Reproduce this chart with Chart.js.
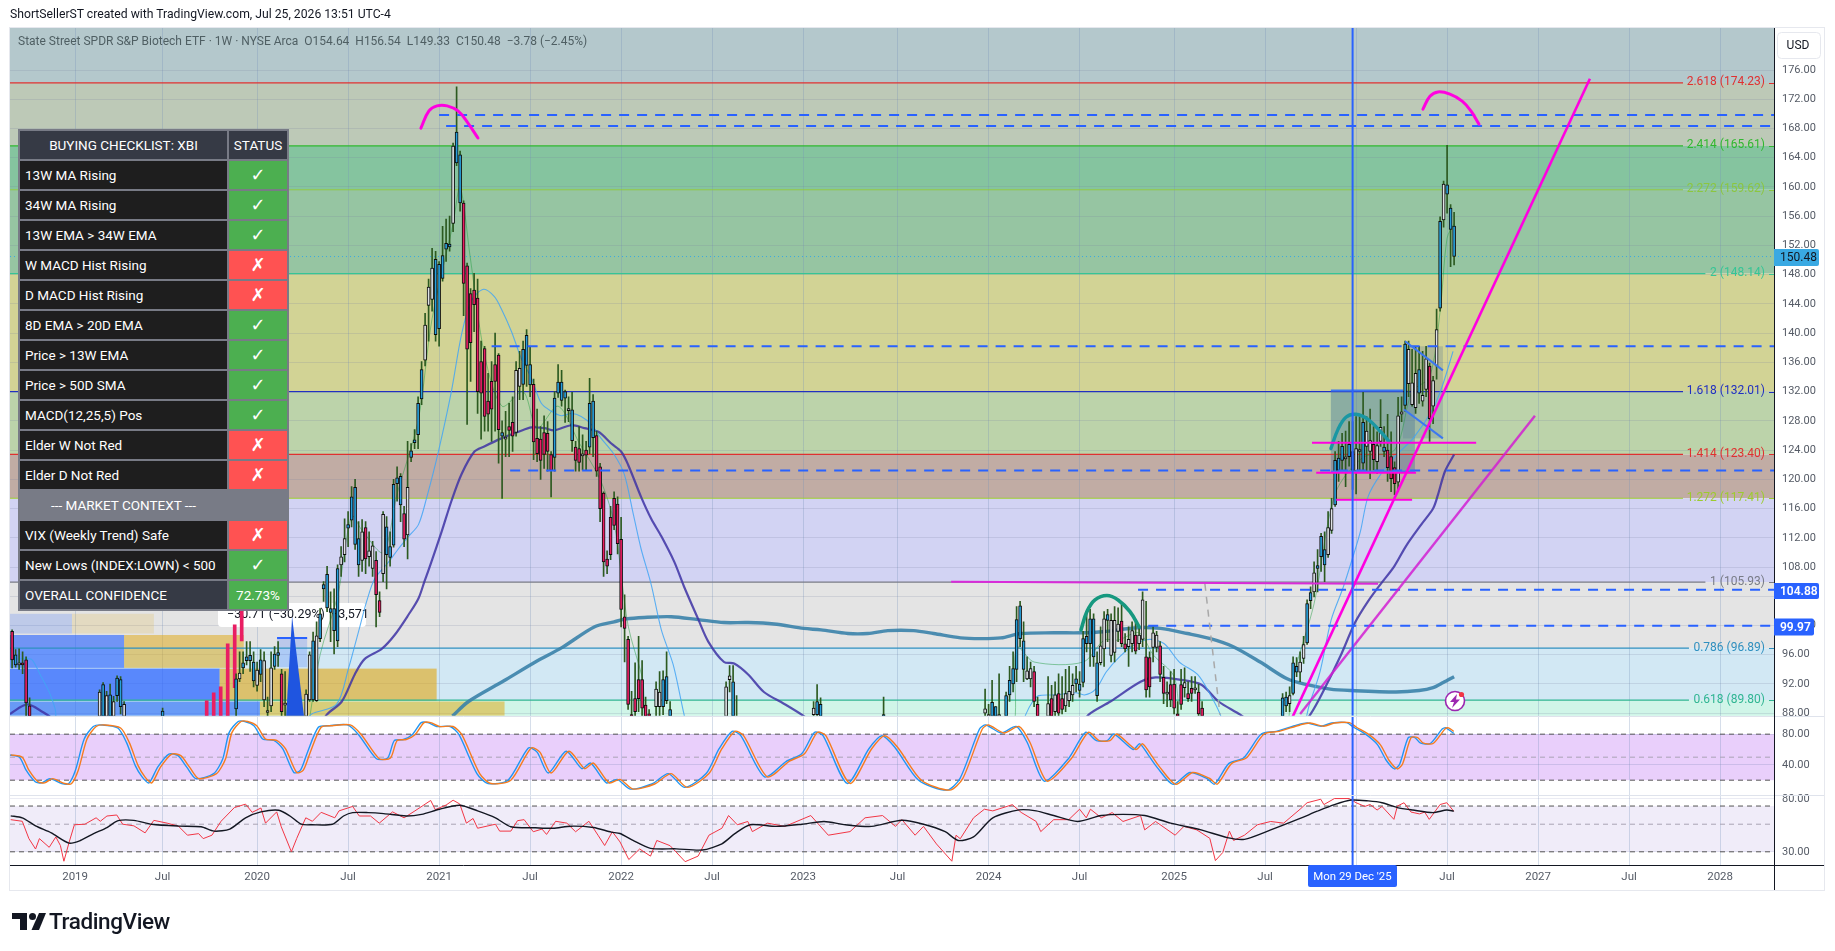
<!doctype html>
<html><head><meta charset="utf-8"><title>XBI</title>
<script src="https://cdn.jsdelivr.net/npm/chart.js@4"></script>
<style>
html,body{margin:0;padding:0;background:#fff;width:1835px;height:951px;overflow:hidden;font-family:Roboto,sans-serif}
canvas{position:absolute;left:0;top:0}
.t{position:absolute;white-space:pre}
#hdr{left:10px;top:7px;font-size:12.2px;color:#131722}
#ttl{left:18px;top:34px;font-size:12px;color:#4f5f63}
#tbl{position:absolute;left:18px;top:128.5px;width:267px;padding:2px;background:#787b86;display:grid;grid-template-columns:207px 58px;grid-auto-rows:28px;gap:2px}
#tbl div{display:flex;align-items:center;color:#fff;font-size:13.5px;font-family:Roboto,sans-serif;box-sizing:border-box;padding-left:5px;white-space:nowrap}
#tbl .h{background:#363a45;justify-content:center;padding:0}
#tbl .l{background:#1e1e1e}
#tbl .ok,#tbl .no{justify-content:center;padding:0;font-family:"DejaVu Sans";font-size:18px;font-weight:700}
#tbl .ok{background:#4caf50}#tbl .no{background:#ff5252}
#tbl .c{background:#787b86;justify-content:center;padding:0}
#tbl .o{background:#363a45}
#tbl .p{background:#4caf50;justify-content:center;padding:0}
#logo{position:absolute;left:12px;top:912px}
#lt{left:49px;top:908px;font-size:22.5px;font-weight:500;color:#131722;letter-spacing:-.4px}
</style></head><body>
<canvas id="c" width="1835" height="951"></canvas>
<div class="t" id="hdr">ShortSellerST created with TradingView.com, Jul 25, 2026 13:51 UTC-4</div>
<div class="t" id="ttl">State Street SPDR S&amp;P Biotech ETF · 1W · NYSE Arca  O154.64  H156.54  L149.33  C150.48  −3.78 (−2.45%)</div>
<div id="tbl"></div>
<svg id="logo" width="34" height="19" viewBox="0 0 34 19"><path d="M0 1h15v17H8V7H0z" fill="#131722"/><circle cx="20.5" cy="4.5" r="3.5" fill="#131722"/><path d="M27 1h7l-7 17h-7.5z" fill="#131722"/></svg>
<div class="t" id="lt">TradingView</div>
<script>
const checklistLabels=["13W MA Rising","34W MA Rising","13W EMA > 34W EMA","W MACD Hist Rising","D MACD Hist Rising","8D EMA > 20D EMA","Price > 13W EMA","Price > 50D SMA","MACD(12,25,5) Pos","Elder W Not Red","Elder D Not Red"];
const checklistStatus=[1,1,1,0,0,1,1,1,1,0,0];
const contextLabels=["VIX (Weekly Trend) Safe","New Lows (INDEX:LOWN) < 500"];
const contextStatus=[0,1];

const tickWeeks=[18,43,70,96,122,148,174,200,226,253,279,305,332,358,384,410,436,462,488];
const tickLabels=["2019","Jul","2020","Jul","2021","Jul","2022","Jul","2023","Jul","2024","Jul","2025","Jul","2026","Jul","2027","Jul","2028"];
const priceTicks=[88,92,96,100,104,108,112,116,120,124,128,132,136,140,144,148,152,156,160,164,168,172,176];
const stochTicks=[40,80];
const rsiTicks=[30,80];

const fibRatios=["0.618","0.786","1","1.272","1.414","1.618","2","2.272","2.414","2.618"];
const fibPrices=[89.80,96.89,105.93,117.41,123.40,132.01,148.14,159.62,165.61,174.23];
const fibColors=["#2fb592","#2e8fbf","#787b86","#9ccc2e","#e03030","#2030c0","#35c596","#8cc63f","#2fb82f","#e03030"];
const fibLineEnds=[479.1,479.1,483.8,477.4,477.4,477.4,483.8,477.4,477.4,477.4];
const bandEdges=[181.75,174.23,165.61,159.62,148.14,132.01,123.40,117.41,105.93,96.89,89.80,87.64];
const bandColors=["#b4c8cc","#bdc9b7","#85c49f","#96c5a2","#d2d395","#bcd3aa","#c1aca4","#d2d3f3","#e4e4e4","#d2e8f4","#d0f5e8"];

const barWeeks=[0,1,2,3,4,5,25,26,27,28,29,30,31,32,43,
64,65,66,67,68,69,70,71,72,73,74,75,76,77,78,84,85,86,87,
88,89,90,91,92,93,94,95,96,97,98,99,100,101,102,103,104,105,106,107,108,109,110,111,112,113,114,115,116,
117,118,119,120,121,122,123,124,125,126,127,128,129,130,131,132,133,134,135,136,137,138,139,140,141,142,143,144,145,146,147,148,149,
150,151,152,153,154,155,156,157,158,159,160,161,162,163,164,165,166,167,168,169,170,171,172,173,174,175,176,177,178,179,180,181,182,184,185,186,187,188,
204,205,206,207,229,230,231,249,278,279,280,281,282,284,285,286,287,288,
289,290,291,292,293,296,297,298,299,300,301,302,303,304,305,306,307,308,309,310,311,312,313,314,315,316,317,318,319,320,321,322,323,324,325,326,327,328,329,330,331,332,333,334,335,336,337,338,339,340,
363,364,365,366,367,368,369,370,371,372,373,374,375,376,377,378,379,380,381,382,383,384,385,386,387,388,389,390,391,392,393,394,395,396,397,398,399,400,401,402,403,404,405,406,407,408,409,410,411,412];
const bodyTop=[99.2,96.0,94.8,94.9,95.3,89.0,90.9,91.9,90.4,90.5,89.6,92.8,92.6,89.2,88.3,
92.7,93.5,94.9,95.7,95.9,95.0,93.9,95.3,95.2,88.2,94.2,96.1,96.3,93.4,89.2,90.6,96.0,97.9,98.6,
101.6,105.6,107.0,102.3,102.3,107.8,109.4,111.9,113.8,117.6,118.9,111.9,112.8,113.4,110.2,110.9,108.9,103.4,115.2,113.5,110.8,119.3,120.2,120.4,115.3,118.9,123.9,125.4,130.4,
135.0,141.1,146.3,148.9,150.1,149.4,150.6,152.3,152.2,165.6,167.5,164.4,157.8,149.2,145.4,145.9,144.8,136.1,137.9,130.7,133.4,135.7,137.0,126.4,125.7,127.2,127.8,134.9,135.2,137.8,139.7,135.7,133.0,
125.6,125.5,126.4,126.3,123.4,131.1,133.3,133.3,132.0,129.5,129.5,124.4,124.2,123.3,124.0,130.4,130.7,126.0,121.7,118.1,109.1,114.8,117.4,116.6,111.8,101.2,98.1,87.8,90.0,92.6,92.6,89.1,87.9,91.3,90.9,92.6,93.0,88.5,
91.6,93.1,92.3,86.0,88.7,89.6,89.2,87.8,88.6,87.8,89.5,88.9,87.8,90.4,92.5,94.1,100.8,102.7,
97.9,93.8,94.1,93.7,89.2,89.3,90.0,90.5,90.7,90.0,90.7,91.0,91.8,92.7,92.0,98.2,98.5,100.9,100.9,94.9,97.2,100.9,101.5,100.7,100.7,100.2,100.6,97.5,98.1,99.3,98.7,98.7,103.5,95.7,95.6,99.0,98.7,97.2,92.9,90.8,91.9,92.0,87.9,91.9,92.2,90.7,91.4,91.3,90.9,88.7,
90.1,90.2,90.4,94.9,94.4,95.0,97.4,103.0,104.5,107.2,108.2,112.2,110.4,113.4,116.0,122.6,122.9,124.5,122.9,124.8,123.8,124.2,123.9,127.8,126.6,125.3,124.8,124.6,127.1,124.4,124.0,123.1,121.6,128.7,129.25,138.5,137.8,133.2,134.5,135.0,131.5,136.5,135.5,133.5,140.5,155.3,160.4,160.3,157.1,154.64];
const bodyBottom=[95.3,94.6,94.6,94.6,89.4,87.5,87.0,87.0,86.0,85.5,86.0,90.4,88.9,86.0,86.5,
88.6,92.7,94.2,95.2,95.2,92.4,91.8,93.3,89.8,88.1,89.0,94.4,95.9,88.2,89.1,87.4,89.8,89.8,89.7,
98.2,105.0,102.4,101.8,99.3,97.9,108.3,109.7,113.3,114.4,111.1,108.3,108.9,109.1,109.4,107.8,104.2,101.8,107.1,109.7,109.3,111.0,119.4,116.5,111.8,112.4,123.0,125.0,126.1,
131.0,136.3,143.8,144.6,139.8,140.6,147.5,151.5,151.8,155.0,163.3,157.8,146.8,137.8,138.7,143.9,132.0,131.8,128.6,128.9,129.6,133.4,126.8,125.9,125.5,126.7,125.9,126.4,132.7,133.0,135.6,132.9,125.1,
123.5,122.6,123.4,123.8,121.2,123.0,131.8,130.8,131.1,129.4,125.3,122.6,122.3,123.2,123.3,124.4,125.7,121.1,116.0,108.7,108.1,109.7,113.7,111.2,102.2,99.6,89.2,85.4,88.2,90.0,88.7,86.1,86.1,88.9,88.9,88.9,89.7,86.1,
85.4,92.6,85.4,85.0,87.8,87.8,86.1,87.5,88.0,86.8,86.8,86.8,86.8,86.8,90.5,92.0,94.0,98.2,
94.0,92.7,92.7,89.6,86.1,86.1,86.8,88.2,88.0,88.5,89.0,89.7,90.5,92.0,91.1,92.2,97.5,97.5,95.7,90.4,94.9,96.8,100.7,95.9,96.3,99.2,97.5,96.8,97.1,97.5,96.5,97.5,98.1,91.2,91.6,97.0,97.0,93.3,90.7,90.6,89.8,88.7,86.0,89.2,91.5,90.0,90.7,91.2,87.9,86.1,
86.1,89.0,89.3,90.7,93.6,93.6,95.5,97.6,103.4,104.6,107.8,109.4,108.3,109.7,113.0,116.5,121.2,122.6,122.8,123.1,121.2,121.1,123.8,122.2,124.5,123.8,122.7,122.4,125.2,123.8,121.6,120.1,119.4,119.6,128.9,130.1,133.1,130.2,129.8,131.8,130.7,132.3,128.3,130.0,135.5,143.4,155.5,159.0,154.2,150.48];
const highs=[99.4,96.7,96.8,96.4,95.7,90.1,91.2,92.2,91.0,92.0,90.3,93.1,93.0,89.6,88.7,
93.4,96.4,96.4,97.8,97.8,96.4,95.0,96.7,96.4,90.2,96.4,97.1,97.8,94.0,93.7,91.2,96.4,99.1,100.5,
102.3,106.0,108.1,104.6,105.0,108.3,110.8,114.6,115.6,119.0,120.0,114.2,114.5,114.2,112.8,111.5,110.1,104.6,115.6,114.9,112.8,120.0,121.7,120.8,116.3,125.2,124.9,126.8,131.3,
136.1,142.7,147.4,151.6,151.2,149.8,154.6,155.6,156.0,166.0,173.7,164.9,158.1,149.6,146.1,148.2,147.4,138.9,138.2,134.5,136.1,140.0,137.2,128.0,129.3,130.4,131.3,136.1,137.5,138.9,140.5,138.2,133.7,
129.6,127.2,128.7,127.9,123.8,132.0,135.7,134.9,132.2,131.3,131.9,125.2,127.2,126.1,125.2,133.8,131.6,126.6,122.2,118.3,110.2,116.3,118.3,117.6,114.8,104.2,98.5,91.0,94.9,98.5,95.2,90.2,88.5,92.3,93.7,93.8,96.4,89.6,
92.3,94.5,94.5,90.4,89.6,91.9,90.1,90.2,91.3,89.2,92.5,88.9,93.4,90.9,94.4,96.4,102.6,103.3,
100.5,95.7,95.0,94.4,90.2,93.0,91.8,92.3,93.4,93.0,94.0,94.4,93.4,94.4,93.7,99.2,101.9,102.2,101.6,96.4,99.8,101.9,102.2,101.6,102.6,102.4,103.0,98.9,99.8,100.5,100.5,99.8,104.6,103.3,96.4,99.8,99.2,97.8,94.4,92.3,93.7,94.0,89.6,94.0,94.2,92.3,93.0,93.0,92.0,89.6,
90.7,90.9,91.6,95.7,95.6,96.4,98.5,103.5,105.3,108.7,110.4,112.6,112.8,115.6,117.4,123.8,125.2,126.3,126.6,127.9,127.9,128.6,128.6,131.9,128.6,129.6,127.2,126.5,130.9,127.2,128.9,126.5,122.4,131.2,131.3,138.9,138.9,137.8,138.2,138.2,137.5,138.2,135.9,134.1,143.3,155.9,160.8,165.7,157.6,156.54];
const lows=[94.2,94.3,94.0,93.4,86.8,85.5,85.5,85.5,85.0,85.0,85.0,89.6,87.9,85.0,85.0,
86.5,92.3,93.4,94.6,93.7,91.6,91.0,92.3,88.9,86.8,88.2,94.0,94.4,86.1,86.8,85.5,89.6,89.6,89.6,
97.8,103.3,101.9,97.8,96.1,97.1,106.7,108.7,110.8,113.5,110.4,106.7,107.4,107.1,108.1,106.7,99.8,101.2,106.0,105.0,108.1,110.7,117.0,114.2,110.8,109.1,122.4,124.2,124.2,
130.2,135.5,138.9,143.0,138.9,138.2,147.1,149.8,151.2,153.9,162.9,156.7,142.4,127.5,133.4,140.2,129.0,125.5,126.6,126.6,125.2,126.6,122.2,117.4,123.1,123.1,123.8,125.9,130.9,130.9,132.7,131.3,122.7,
122.4,120.0,121.5,121.1,117.6,121.1,131.2,130.0,127.8,127.9,123.8,121.1,121.1,121.3,121.3,123.5,123.1,120.4,114.2,106.7,107.1,109.0,113.1,109.8,99.8,95.0,88.5,84.8,86.1,88.2,87.4,85.4,85.4,87.5,87.5,87.8,89.3,85.4,
84.8,90.9,84.8,84.5,87.0,87.5,85.4,87.0,87.5,86.0,86.0,86.0,86.0,86.0,89.6,90.9,92.3,97.1,
92.3,92.6,91.6,88.9,85.4,85.4,85.4,87.5,86.8,87.9,88.2,88.9,89.6,90.9,90.2,91.6,96.4,94.4,94.4,89.6,94.6,94.4,97.8,95.0,95.0,97.8,97.1,96.4,94.4,96.4,96.1,96.7,97.1,90.2,90.2,95.0,96.4,92.3,89.3,88.9,88.9,87.9,85.4,88.5,90.2,89.6,89.6,90.7,86.8,85.4,
85.4,88.2,88.2,90.5,93.0,92.3,94.8,97.4,102.3,103.9,104.6,107.4,106.0,109.3,112.6,116.3,119.7,121.1,119.0,121.8,118.6,118.0,121.1,121.1,121.1,120.1,121.3,120.8,124.5,123.1,119.7,118.3,117.9,118.3,127.9,129.3,131.3,130.0,129.0,130.4,130.0,131.3,125.2,127.6,133.7,143.0,154.5,156.4,149.1,149.33];
/* weeks whose candle is pink or pale; the rest are blue */
const pinkCandleWeeks=[0,3,4,5,77,101,104,105,112,129,130,131,132,133,134,135,136,137,138,139,142,143,149,150,151,152,153,154,161,162,164,167,168,169,170,171,172,173,174,175,176,177,178,179,180,181,182,292,293,297,299,300,317,318,321,324,325,328,329,331,332,333,334,336,337,339,340,389,393,394,395,405];
const paleCandleWeeks=[2,25,27,29,32,65,70,72,73,74,78,84,85,87,94,95,100,102,103,106,113,118,119,120,126,141,144,145,159,163,184,185,204,205,207,229,278,279,282,290,291,296,298,301,302,303,311,312,314,315,316,319,320,322,323,326,327,330,335,338,365,368,369,372,376,377,381,384,385,387,388,390,391,396,397,399,400,401,403,404,406,407,409];

/* thin 13-week average */
const ma13Weeks=[-1,1.5,3.7,5.7,8,10.6,12.3,13.4,82.7,85.6,92.7,96.1,99,101.3,103.6,107.6,110.4,113.3,116.1,118.4,121.8,125.5,128.4,131.2,134.7,137.8,139.8,142.7,145.5,148.4,151.2,154.1,156.9,159.8,162.6,165.5,168.3,172,174.9,177.5,179.7,182.6,185.5,188.9,192,194,286.7,289.6,291.6,293.3,297.9,303.9,306.4,309.6,312.7,316.4,320.7,325,329.2,333.5,338.7,342.4,345.2,347.5,366.6,370.9,373.7,376.9,380.3,382.9,385.2,387.4,390.9,395.7,400.3,406,408.8,411.7];
const ma13Values=[95.4,95.4,95.5,95.3,93.3,90.9,88.6,86.5,86.5,87.9,89.2,94.1,99.2,103.3,106.4,108.7,110.5,112.2,113.8,117.4,123.8,132,139.8,144.4,146,145,143.3,140.2,136.5,133.8,130.4,129.3,128.7,129,128.6,127.5,125.6,123.4,120.7,115.2,110.5,105.6,99.4,94.6,87.8,84,84,87.8,89.6,90.4,90.5,90.8,90.5,91.3,93.7,95.7,97.4,98.1,97.5,95,93.3,90.5,87.8,84,84,89.6,93.7,100.8,105.2,109.1,112.8,117.6,120.6,123.4,125.6,129.7,133,137.5];
/* dark purple 34-week average */
const ma34Weeks=[-0.6,4.3,8.6,12,14,85.6,89.9,94.2,97.9,100.7,105.6,109.3,113.3,116.1,117.8,119.8,122.7,125.5,128.4,132.1,134.9,139.8,144.7,148.4,152.1,154.9,159.8,163.5,167.5,171.2,174,176,179.7,182.6,185.5,189.2,192,196,198.9,203.4,206.3,210.3,214.8,220.5,226.2,234,302.4,307.6,313.8,322.4,326.7,333.5,339.8,344.7,350.9,354.6,365.2,370.9,374.3,379.7,383.7,387.4,390.9,394.9,398.3,402.6,406,407.4,409.4,412];
const ma34Values=[87.9,89.2,88.2,87,84.8,84.8,87.8,89.6,93.3,95.4,96.8,98.7,101.5,103.7,106,108.7,112.8,117,120.7,123.8,124.5,125.6,126.5,127.1,127,126.7,127.4,127,126.5,124.9,123.8,122,117.6,114.6,112.2,108.7,105.3,100.9,97.8,95,94.8,93.3,90.9,89.3,87.6,84.8,84.8,87.8,89.6,92.3,92.9,92.6,91.9,89.6,87.8,86.5,84,87.8,90.7,96,100.4,103.3,105.6,108.1,110.9,113.8,116,117.9,121.1,123.4];
/* thick teal 200-week average */
const ma200Weeks=[125.8,130.4,140.4,149.5,157.2,166.3,172,175.5,180.6,188.3,196,203.4,210.3,217.7,226.2,231.1,238.8,244.5,250.2,257.6,263.3,271,276.7,282.5,288.2,297.6,305.3,311.8,321.5,328.1,335.8,342.4,348.9,356.6,364.3,370,376.6,382.6,395.4,402,406,408.9,412];
const ma200Values=[87.6,89.6,92.4,95,97,99.8,100.5,100.9,101.1,101.2,100.8,100.4,100.4,100.2,99.6,99.4,98.9,98.9,99.3,99.3,98.9,98.3,98.2,98.3,98.9,99,99,99.15,99.7,99.6,98.9,98.2,97.1,95,92.7,91.9,91.3,91.1,90.9,91.1,91.5,92.2,93];
/* faint green short average */
const emaWeeks=[84,88,93,97,100,106,110,116,120,126,128,131,135,140,146,150,156,162,168,172,176,180,184,283,287,292,306,312,316,322,326,332,336,362,366,372,378,386,395,400,405,408,410,412];
const emaValues=[84,96,104,115,113,110,118,128,142,155,160,150,137,130,132,127,130,125,120,114,100,93,84,84,97,95,95,98,98,99,96,93,84,84,93,103,118,123,124,132,134,143,153,155];

/* stochastic */
const stochDWeeks=[-0.4,2.9,4.8,7.4,9.3,11.6,15,17,18.9,21.4,24,26.5,31,33.5,36,38,39.9,42.4,45.6,48.2,50.7,53.3,58.4,61,62.8,65.4,67.3,69.9,72.4,75.6,78.1,81.3,83.2,85.2,88.3,91.5,96.6,99.8,104.9,108.1,110,112.6,115.1,117.7,119.6,122.1,126,128.5,133.6,136.8,142.5,148.3,150.8,154,159.1,163.6,166.1,170.6,173.7,177.4,183.6,188.3,192.9,199.1,202.8,206.5,209,215.8,222,226.4,230.1,232.5,239.4,245.6,249.3,253,259.8,267.9,271.6,277.2,279,283.4,287.7,290.8,295.7,302.6,307.5,310.6,313.7,315.6,321.1,323,325.5,328,332.5,337.3,342.2,344.4,348.4,352.7,357.7,362,368,370.9,374.8,377.8,382.1,384.1,387.5,390.9,393.4,395.8,397.3,399.7,401.6,403.1,406,409.4,410.4,411.9];
const stochDValues=[53,50,33,18,16.5,22,15.7,15.7,33,73.7,90,92,88,69,39,24,16.5,37,54,52,37,22,28.6,48,82,96.5,96.5,91,73.7,72,61,30,33,56.5,89,91,92,79.3,48,49,71.6,73,79.3,95,95,90,90,79.3,28.6,15.7,20,62,56.5,29.4,57.8,35,42.3,16.5,21,8.4,15,28.6,10.6,28.6,61,83.7,78,24.3,44.6,54.5,82.4,78,15.8,61,78,63,20,7,22,86.7,92,81.5,90,69.5,18.8,48,82.4,71.6,71.6,80.2,60,67.4,52.3,36.4,14.5,30,22.2,15,41.6,49.3,80.2,83.7,92,94.5,90.4,94.5,95,89,80,66.4,46,34.7,41.5,75.5,75.5,68.7,67.8,86.8,88.2,83.6];
const stochKWeeks=[-1.2,2.1,4,6.6,8.5,10.8,14.2,16.2,18.1,20.6,23.2,25.7,30.2,32.7,35.2,37.2,39.1,41.6,44.8,47.4,49.9,52.5,57.6,60.2,62,64.6,66.5,69.1,71.6,74.8,77.3,80.5,82.4,84.4,87.5,90.7,95.8,99,104.1,107.3,109.2,111.8,114.3,116.9,118.8,121.3,125.2,127.7,132.8,136,141.7,147.5,150,153.2,158.3,162.8,165.3,169.8,172.9,176.6,182.8,187.5,192.1,198.3,202,205.7,208.2,215,221.2,225.6,229.3,231.7,238.6,244.8,248.5,252.2,259,267.1,270.8,276.4,278.2,282.6,286.9,290,294.9,301.8,306.7,309.8,312.9,314.8,320.3,322.2,324.7,327.2,331.7,336.5,341.4,343.6,347.6,351.9,356.9,361.2,367.2,370.1,374,377,381.3,383.3,386.7,390.1,392.6,395,396.5,398.9,400.8,402.3,405.2,408.6,409.6,411.9];
const stochKValues=[53,50,33,18,16.5,22,15.7,15.7,33,73.7,90,92,88,69,39,24,16.5,37,54,52,37,22,28.6,48,82,96.5,96.5,91,73.7,72,61,30,33,56.5,89,91,92,79.3,48,49,71.6,73,79.3,95,95,90,90,79.3,28.6,15.7,20,62,56.5,29.4,57.8,35,42.3,16.5,21,8.4,15,28.6,10.6,28.6,61,83.7,78,24.3,44.6,54.5,82.4,78,15.8,61,78,63,20,7,22,86.7,92,81.5,90,69.5,18.8,48,82.4,71.6,71.6,80.2,60,67.4,52.3,36.4,14.5,30,22.2,15,41.6,49.3,80.2,83.7,92,94.5,90.4,94.5,95,89,80,66.4,46,34.7,41.5,75.5,75.5,68.7,67.8,86.8,88.2,81];

/* RSI and its average */
const rsiWeeks=[-0.4,2.9,4.8,6.7,7.8,10.6,12.5,13.8,14.8,16.3,17.8,20.8,24,25.2,27.1,29.9,31.6,34.8,38,40.5,44.3,47.5,50.1,53.3,54.6,57.1,59.7,63.5,66.7,68.6,71.1,72.4,75.6,76.9,79.8,81.3,83.9,85.8,88.3,92.2,93.4,97.3,99.2,102.4,104.9,108.7,112,115.1,119.6,120.9,124,126,127.9,129.8,131.7,133,138.1,139.3,142.5,144.4,146.3,148.9,151.4,152.7,155.3,158.5,161,164.8,167.4,169.3,171.5,173.7,176.2,179.3,182.4,184.2,188,192.3,196,199.1,202.8,204.7,207.2,210.2,211.5,215.8,220.8,228.2,233.2,239.4,243.7,248.7,252.4,254.2,258,260.4,264.1,268.5,269.7,270.9,274.7,277.8,280.2,285.8,288.3,292.6,293.9,297.6,301.9,305,306.9,308.1,311.2,314.3,317.4,322.4,323.6,326.7,332.3,334.8,338.5,342.2,343.8,345.9,347.8,349,352.1,355.8,359.6,363.3,368,370,373.9,374.8,377.8,382,384,386.5,388,390,391.4,394.8,395.8,397.7,399.7,402.1,403.6,404.9,408,409.9,411.9];
const rsiValues=[54.4,52.8,38.3,31.6,38.3,32.6,39.5,33.7,25.2,35.9,49.5,50,56.3,52.8,58.2,59.3,50,48.5,42.6,53.7,51,48.3,40.8,42,38.3,40.8,52.8,68,72.5,62.3,67.5,51,62.8,47.7,30,38.3,56.3,52.8,62.3,56.3,64,69.5,58.2,58.2,51,62.8,56.3,64,77.6,65.5,71.3,78,72.7,51,55.6,46.4,50,44,44,53.4,54.4,43.5,45.7,41.4,52.8,51,43.5,52.8,40.8,33.7,43.5,36,26,31.6,27.7,37,33.6,25,27.7,40.8,46.4,58.7,49.5,52.6,43.6,51,48,58.7,40.8,43.6,56.3,58.7,48,54.5,40.8,48,34.7,25.2,40.8,38.2,56.3,66,64,71.8,62.2,52.6,43.6,54.4,54.4,66,56.3,66,56.3,62,52.6,58.7,45,52.6,40.8,48,45,38.5,25.5,29.6,44,37,40.8,49.5,52.6,51,66,74.4,79.4,71.9,80.4,80.4,74.4,69.5,72,65,69.5,54.7,70,74.4,62.6,60.5,62.6,54.7,72,74.4,63.6];
const rsiMaWeeks=[-0.4,2.9,6.7,11.2,16.3,19.5,23.3,27.1,30.3,34.8,39.9,47.5,54,57.7,62.2,66.7,71.1,76.2,79.4,82.6,85.8,91.5,94.7,97.3,101.7,106.2,112.6,117,122.1,127.9,133,138.1,142.5,149.5,154.6,159.7,166.1,171.2,173.7,177.4,182.4,189.8,197.2,202.8,206.5,210.9,218.3,225.7,232,238.1,245.6,254.2,260.4,266.6,270.3,274.7,280.2,287.7,292.6,297.6,304.4,311.2,317.4,323.6,331,339.7,347.2,352.1,359.6,368,372.9,377.8,382.6,387.5,391.4,395.8,400.2,406,409.9,411.9];
const rsiMaValues=[58.4,56.3,48.5,42.6,35.2,37,42,47,53.4,53.7,50,48.3,47.7,44,45.7,56.3,62.8,64.8,58.2,50,49.5,50,58.2,62,62,60.8,58.2,60,66,71,64,56.3,47.7,46.8,46.4,48.2,47,43.2,42.1,37,32,31.7,31,34.8,42,49.5,48,50,52.6,49.5,48,53.8,50,43.5,37,39.5,56.3,65.2,64,58.7,52.6,58.7,60,58.7,51,45,39,37.8,45,55.7,63.6,71.9,78.2,77,74.4,68,65,62,65,63.6];

/* hand-drawn trading marks, in week and price */
const dashWeeks=[122,124,137,142.3,321.7,324.6];
const dashPrices=[169.83,168.33,138.2,121.2,104.88,99.97];
const arcLeftWeeks=[116.8,119.1,121.4,124.3,127.4,130.3,133.1];
const arcLeftPrices=[168.05,170.4,171.1,171.1,170.4,168.7,166.7];
const arcRightWeeks=[403.1,405.1,407.4,410.8,414.3,416.8,419.1];
const arcRightPrices=[170.65,172.4,173,172.7,171.75,170.4,168.6];
const trendOneWeeks=[364.3,450.8];const trendOnePrices=[85.9,174.8];
const trendTwoWeeks=[368,435.1];const trendTwoPrices=[87.9,128.7];
const neckWeeks=[268.3,390.3];const neckPrices=[106,105.7];
const levelWeeks=[[371.4,418.3],[372.6,401.1],[378.3,400]];
const levelPrices=[125,120.9,117.2];
const tealArcWeeks=[376.8,378.8,381.1,383.9,387.4,391.4,393.4];
const tealArcPrices=[124.2,126.8,128.5,128.9,128.2,126.3,125.2];
const greenArcWeeks=[305.4,307.1,309.4,312.8,316,319.4,322];
const greenArcPrices=[99.4,101.9,103.5,104.1,103.5,101.9,99.8];
const flagTopWeeks=[398,408.8];const flagTopPrices=[138.9,134.9];
const flagLowWeeks=[397.7,408.8];const flagLowPrices=[129.56,125.6];
const boxEdgeWeeks=[376.8,397.4];const boxEdgeTop=132.16;const boxEdgeBottom=121.07;
const diagWeeks=[340.8,345.1];const diagPrices=[105.7,87.8];
const cursorWeek=383;
const lastPrice=150.48;

/* volume-profile rows and pink columns at the lower left */
const rowTops=[101.6,98.7,94.1,89.6];
const rowBottoms=[98.9,94.2,89.7,87.64];
const rowBlueEnds=[17.1,32,59.3,70.8];
const rowGoldEnds=[40.5,66.2,121.3,140.7];
const rowAlphas=[0.2,0.62,0.72,0.62];
const pinkWeeks=[55.6,57.6,59.6,61.6,63.6,65.6];
const pinkTops=[89.7,90.8,91.6,97.5,100.1,104.6];
const pinkBottoms=[87,87,87,87,91.5,97.9];
const triangleWeeks=[80,78.3,83.4];
const trianglePrices=[101.2,87.6,87.6];
const measureBoxWeeks=[75.7,84.3];const measureBoxPrices=[98.3,94.3];
const boxOneWeeks=[376.8,400.8];const boxOnePrices=[132.16,121.07];
const boxTwoWeeks=[397.4,408.8];const boxTwoPrices=[138.2,125.6];

const stochBands=[80,50,20];
const rsiBands=[70,50,30];

/* ---------- table ---------- */
const tbl=document.getElementById('tbl');
function cell(cls,txt){const d=document.createElement('div');d.className=cls;d.textContent=txt;tbl.appendChild(d);}
cell('h','BUYING CHECKLIST: XBI');cell('h','STATUS');
checklistLabels.forEach((l,i)=>{cell('l',l);cell(checklistStatus[i]?'ok':'no',checklistStatus[i]?'✓':'✗');});
cell('c','--- MARKET CONTEXT ---');cell('c','');
contextLabels.forEach((l,i)=>{cell('l',l);cell(contextStatus[i]?'ok':'no',contextStatus[i]?'✓':'✗');});
cell('o','OVERALL CONFIDENCE');cell('p','72.73%');

const pinkSet=new Set(pinkCandleWeeks),paleSet=new Set(paleCandleWeeks);
const kindColor=w=>pinkSet.has(w)?'#e91e63':paleSet.has(w)?'#dfe3e6':'#27a0dc';

const zip=(xs,ys)=>xs.map((x,i)=>({x,y:ys[i]}));
const flat=(xs,y)=>xs.map(x=>({x,y}));
const XMIN=-0.6,XMAX=503.4;
function line(data,color,width,opt){return Object.assign({type:'line',data,borderColor:color,borderWidth:width,pointRadius:0,fill:false,xAxisID:'x',yAxisID:'y',order:2,tension:0},opt||{});}
const MAG='#ff00e0',DASH='#2962ff';
const ds=[];
ds.push({type:'bar',grouped:false,data:pinkWeeks.map((w,i)=>({x:w,y:[pinkBottoms[i],pinkTops[i]]})),backgroundColor:'#e91e63',barThickness:3,xAxisID:'x',yAxisID:'y',order:8});
ds.push({type:'bar',grouped:false,data:barWeeks.map((w,i)=>({x:w,y:[lows[i],highs[i]]})),backgroundColor:'#2c5a20',barThickness:1,xAxisID:'x',yAxisID:'y',order:6});
ds.push({type:'bar',grouped:false,data:barWeeks.map((w,i)=>({x:w,y:[bodyBottom[i],bodyTop[i]]})),backgroundColor:barWeeks.map(kindColor),borderColor:'#0c0c0c',borderWidth:1,borderSkipped:false,minBarLength:2,barThickness:3,xAxisID:'x',yAxisID:'y',order:5});
ds.push(line(zip(ma13Weeks,ma13Values),'rgba(66,165,245,.85)',1.1,{order:7,tension:.3}));
ds.push(line(zip(ma34Weeks,ma34Values),'rgba(62,50,165,.85)',2.2,{order:7,tension:.3}));
ds.push(line(zip(ma200Weeks,ma200Values),'rgba(58,130,170,.9)',3.4,{order:7,tension:.3}));
ds.push(line(zip(emaWeeks,emaValues),'rgba(40,160,70,.5)',1,{order:7,tension:.3}));
fibPrices.forEach((p,i)=>ds.push(line(zip([XMIN,fibLineEnds[i]],[p,p]),fibColors[i],1.2,{order:9})));
ds.push(line(zip([XMIN,XMAX],[lastPrice,lastPrice]),'#39a9e3',1,{borderDash:[1,3],order:9}));
dashPrices.forEach((p,i)=>ds.push(line(zip([dashWeeks[i],XMAX],[p,p]),DASH,2,{borderDash:[10,8],order:3})));
ds.push(line(zip(arcLeftWeeks,arcLeftPrices),MAG,3,{tension:.4,borderCapStyle:'round'}));
ds.push(line(zip(arcRightWeeks,arcRightPrices),MAG,3,{tension:.4,borderCapStyle:'round'}));
ds.push(line(zip(trendOneWeeks,trendOnePrices),MAG,2.6));
ds.push(line(zip(trendTwoWeeks,trendTwoPrices),'rgba(210,30,210,.85)',2.4));
ds.push(line(zip(neckWeeks,neckPrices),'#d92bd9',2));
levelPrices.forEach((p,i)=>ds.push(line(zip(levelWeeks[i],[p,p]),MAG,2)));
ds.push(line(zip(tealArcWeeks,tealArcPrices),'#1a97a3',3.4,{tension:.4,borderCapStyle:'round'}));
ds.push(line(zip(greenArcWeeks,greenArcPrices),'#16987f',3.6,{tension:.4,borderCapStyle:'round'}));
ds.push(line(zip(flagTopWeeks,flagTopPrices),'#3c78f0',2));
ds.push(line(zip(flagLowWeeks,flagLowPrices),'#3c78f0',2));
ds.push(line(flat(boxEdgeWeeks,boxEdgeTop),'#3c78f0',2));
ds.push(line(flat(boxOneWeeks,boxEdgeBottom),'#3c78f0',2));
ds.push(line(zip(diagWeeks,diagPrices),'#a8a8a8',1.5,{borderDash:[7,6]}));
ds.push(line(zip(measureBoxWeeks,[measureBoxPrices[0],measureBoxPrices[0]]),'#2962ff',2));
ds.push(line(zip([cursorWeek,cursorWeek],[87.64,181.75]),'#2962ff',2,{order:1}));
stochBands.forEach((v,i)=>ds.push(line(zip([XMIN,XMAX],[v,v]),i==1?'#a9a3b5':'#555',1,{yAxisID:'stoch',borderDash:[5,4],order:9})));
ds.push(line(zip(stochKWeeks,stochKValues),'#2196f3',1.4,{yAxisID:'stoch',order:5,tension:.25}));
ds.push(line(zip(stochDWeeks,stochDValues),'#f57c1f',1.4,{yAxisID:'stoch',order:4,tension:.25}));
ds.push(line(zip([cursorWeek,cursorWeek],[0.8,103.9]),'#2962ff',2,{yAxisID:'stoch',order:1}));
rsiBands.forEach((v,i)=>ds.push(line(zip([XMIN,XMAX],[v,v]),i==1?'#a9a3b5':'#555',1,{yAxisID:'rsi',borderDash:[5,4],order:9})));
ds.push(line(zip(rsiWeeks,rsiValues),'#f23645',1,{yAxisID:'rsi',order:5}));
ds.push(line(zip(rsiMaWeeks,rsiMaValues),'#131722',1.4,{yAxisID:'rsi',order:4,tension:.25}));
ds.push(line(zip([cursorWeek,cursorWeek],[23.5,86]),'#2962ff',2,{yAxisID:'rsi',order:1}));

const FONT='Roboto, sans-serif';
const decor={id:'decor',
 beforeDraw(ch){const c=ch.ctx,{y,stoch,rsi}=ch.scales,a=ch.chartArea;c.save();
  c.fillStyle='#fff';c.fillRect(0,0,1835,951);
  bandColors.forEach((col,i)=>{const t=y.getPixelForValue(bandEdges[i]),b=y.getPixelForValue(bandEdges[i+1]);c.fillStyle=col;c.fillRect(a.left,t,a.right-a.left,b-t);});
  let t=stoch.getPixelForValue(80),b=stoch.getPixelForValue(20);c.fillStyle='#e9cffb';c.fillRect(a.left,t,a.right-a.left,b-t);
  t=rsi.getPixelForValue(70);b=rsi.getPixelForValue(30);c.fillStyle='#f0ecf9';c.fillRect(a.left,t,a.right-a.left,b-t);
  c.restore();},
 beforeDatasetsDraw(ch){const c=ch.ctx,{x,y}=ch.scales,a=ch.chartArea;c.save();c.beginPath();c.rect(a.left,y.top,a.right-a.left,y.bottom-y.top);c.clip();
  const R=(w0,w1,p0,p1,col)=>{const l=x.getPixelForValue(w0),r=x.getPixelForValue(w1),t=y.getPixelForValue(p0),b=y.getPixelForValue(p1);c.fillStyle=col;c.fillRect(l,t,r-l,b-t);};
  rowTops.forEach((p,i)=>{R(XMIN,rowBlueEnds[i],p,rowBottoms[i],`rgba(41,98,255,${rowAlphas[i]})`);R(rowBlueEnds[i],rowGoldEnds[i],p,rowBottoms[i],`rgba(225,165,10,${rowAlphas[i]*.8})`);});
  R(measureBoxWeeks[0],measureBoxWeeks[1],measureBoxPrices[0],measureBoxPrices[1],'rgba(41,98,255,.22)');
  R(boxOneWeeks[0],boxOneWeeks[1],boxOnePrices[0],boxOnePrices[1],'rgba(60,110,150,.38)');
  R(boxTwoWeeks[0],boxTwoWeeks[1],boxTwoPrices[0],boxTwoPrices[1],'rgba(90,120,150,.28)');
  c.restore();
  c.save();c.fillStyle='#fff';c.beginPath();c.roundRect(218,603,148,24,4);c.fill();c.fillStyle='#131722';c.font='12.5px '+FONT;c.textBaseline='middle';c.fillText('−30.71 (−30.29%)  −3,571',227,615);c.restore();
 },
 afterDatasetsDraw(ch){const c=ch.ctx,{x,y,stoch}=ch.scales,a=ch.chartArea;c.save();
  c.save();c.beginPath();c.rect(a.left,y.top,a.right-a.left,y.bottom-y.top);c.clip();
  c.fillStyle='#1f55e0';c.beginPath();triangleWeeks.forEach((w,i)=>{const px=x.getPixelForValue(w),py=y.getPixelForValue(trianglePrices[i]);i?c.lineTo(px,py):c.moveTo(px,py);});c.closePath();c.fill();c.restore();
  c.strokeStyle='#dfe3ec';c.lineWidth=1;
  [y.bottom,stoch.bottom].forEach(v=>{c.beginPath();c.moveTo(a.left,Math.round(v)+.5);c.lineTo(1824,Math.round(v)+.5);c.stroke();});
  c.strokeStyle='#e6e8ee';c.strokeRect(9.5,27.5,1815,863);
  c.strokeStyle='#131722';c.beginPath();c.moveTo(a.right+.5,a.top);c.lineTo(a.right+.5,890);c.moveTo(a.left,Math.round(a.bottom)+.5);c.lineTo(1824,Math.round(a.bottom)+.5);c.stroke();
  c.textAlign='right';c.textBaseline='middle';c.font='12px '+FONT;
  fibPrices.forEach((p,i)=>{const py=y.getPixelForValue(p);c.fillStyle=fibColors[i];c.fillText(`${fibRatios[i]} (${p.toFixed(2)})`,1765,py-0.5);c.fillRect(1769,Math.round(py),5,1);});
  const tag=(w,py,h,bg,fg,t,bold)=>{c.fillStyle=bg;c.beginPath();c.roundRect(1774,py,w,h,[0,2,2,0]);c.fill();c.fillStyle=fg;c.textAlign='left';c.font=(bold?'600 ':'')+'12px '+FONT;c.fillText(t,1780,py+h/2+.5);};
  tag(45,249,17,'#39a9e3','#131722','150.48');
  tag(45,583,16,'#2962ff','#fff','104.88',1);
  tag(40,618.5,17,'#2962ff','#fff','99.97',1);
  c.fillStyle='#2962ff';c.beginPath();c.roundRect(1308,a.bottom,89,22,2);c.fill();c.fillStyle='#fff';c.textAlign='center';c.font='11.4px '+FONT;c.fillText("Mon 29 Dec '25",1352.5,a.bottom+12);
  c.strokeStyle='#e6e8ee';c.fillStyle='#fff';c.beginPath();c.roundRect(1777.5,32.5,43,26,4);c.fill();c.stroke();c.fillStyle='#131722';c.font='12px '+FONT;c.fillText('USD',1798,46);
  c.fillStyle='#fff';c.strokeStyle='#9c27b0';c.lineWidth=1.6;c.beginPath();c.arc(1455,701,9.5,0,Math.PI*2);c.fill();c.stroke();
  c.fillStyle='#9c27b0';c.beginPath();c.moveTo(1457,694);c.lineTo(1450,702);c.lineTo(1454,702);c.lineTo(1452,708);c.lineTo(1460,699.5);c.lineTo(1456,699.5);c.closePath();c.fill();
  c.fillStyle='#f23645';c.beginPath();c.arc(1461.5,694.5,2.6,0,Math.PI*2);c.fill();
  c.restore();}
};
const axisFit=s=>{s.width=50;};
const tickCol='#555b66';
new Chart(document.getElementById('c'),{type:'line',data:{datasets:ds},plugins:[decor],options:{
 responsive:false,animation:false,devicePixelRatio:1,events:[],
 layout:{padding:{left:10,top:28,right:11,bottom:60}},
 plugins:{legend:{display:false},tooltip:{enabled:false}},
 scales:{
  x:{type:'linear',min:XMIN,max:XMAX,offset:false,position:'bottom',afterFit:s=>{s.height=26;},
     afterBuildTicks:s=>{s.ticks=tickWeeks.map(v=>({value:v}));},
     grid:{color:'rgba(120,145,185,.30)',drawTicks:false,offset:false},border:{display:false},
     ticks:{autoSkip:false,maxRotation:0,padding:5,color:tickCol,font:{family:FONT,size:11.5},callback:v=>tickLabels[tickWeeks.indexOf(v)]}},
  y:{type:'linear',position:'right',stack:'p',stackWeight:687,weight:1,min:87.64,max:181.75,afterFit:axisFit,
     afterBuildTicks:s=>{s.ticks=priceTicks.map(v=>({value:v}));},
     grid:{color:'rgba(120,130,160,.20)',drawTicks:false},border:{display:false},
     ticks:{autoSkip:false,crossAlign:'near',padding:8,color:tickCol,font:{family:FONT,size:11},callback:v=>v.toFixed(2)}},
  stoch:{type:'linear',position:'right',stack:'p',stackWeight:79,weight:2,min:0.8,max:103.9,afterFit:axisFit,
     afterBuildTicks:s=>{s.ticks=stochTicks.map(v=>({value:v}));},
     grid:{color:'rgba(120,130,180,.25)',drawTicks:false},border:{display:false},
     ticks:{autoSkip:false,crossAlign:'near',padding:8,color:tickCol,font:{family:FONT,size:11},callback:v=>v.toFixed(2)}},
  rsi:{type:'logarithmic',position:'right',stack:'p',stackWeight:70,weight:3,min:23.5,max:86,afterFit:axisFit,
     afterBuildTicks:s=>{s.ticks=rsiTicks.map(v=>({value:v}));},
     grid:{color:'rgba(120,130,180,.15)',drawTicks:false},border:{display:false},
     ticks:{autoSkip:false,crossAlign:'near',padding:8,color:tickCol,font:{family:FONT,size:11},callback:v=>Number(v).toFixed(2)}}
 }}});
</script>
</body></html>
